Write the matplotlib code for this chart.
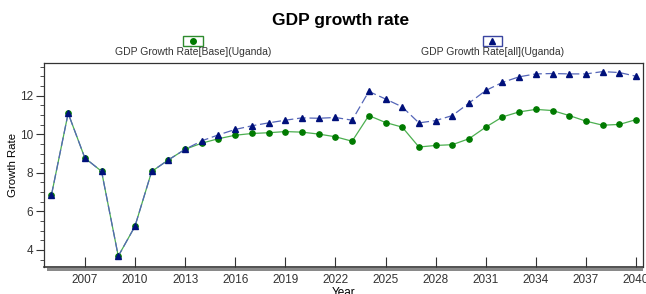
import matplotlib
matplotlib.use('Agg')
import matplotlib.pyplot as plt
from matplotlib.ticker import MultipleLocator
from matplotlib.patches import Rectangle

plt.rcParams['font.family'] = ['Liberation Sans', 'DejaVu Sans']

# data
years = list(range(2005, 2041))
base = [6.85, 11.09, 8.77, 8.08, 3.68, 5.23, 8.07, 8.67, 9.22, 9.54, 9.77,
        9.95, 10.04, 10.08, 10.14, 10.11, 10.01, 9.87, 9.64, 10.97, 10.61,
        10.37, 9.34, 9.42, 9.46, 9.77, 10.37, 10.90, 11.16, 11.29, 11.23,
        10.97, 10.68, 10.47, 10.51, 10.76]
scen_all = [6.85, 11.09, 8.77, 8.08, 3.68, 5.23, 8.07, 8.67, 9.22, 9.66, 9.97,
            10.25, 10.44, 10.59, 10.73, 10.85, 10.83, 10.87, 10.73, 12.22, 11.83,
            11.42, 10.59, 10.71, 10.97, 11.62, 12.27, 12.69, 12.98, 13.13, 13.15,
            13.13, 13.13, 13.25, 13.20, 13.01]
xticks = list(range(2007, 2041, 3))
labels = ['GDP Growth Rate[Base](Uganda)', 'GDP Growth Rate[all](Uganda)']

fig = plt.figure(figsize=(6.46, 2.94), dpi=100)
ax = fig.add_axes([0.068, 0.092, 0.927, 0.694])

ax.plot(years, base, color='#4caf50', lw=0.9, marker='o', ms=3.8,
        mfc='#007a00', mec='#007a00', zorder=3)
ax.plot(years, scen_all, color='#5566b8', lw=0.9, ls=(0, (7, 3)), marker='^', ms=5,
        mfc='#00107a', mec='#00107a', zorder=4)

ax.set_xlim(2004.55, 2040.4)
ax.set_ylim(3.12, 13.7)
ax.set_xticks(xticks)
ax.yaxis.set_major_locator(MultipleLocator(2))
ax.yaxis.set_minor_locator(MultipleLocator(0.5))
ax.tick_params(axis='y', which='major', direction='out', length=6, pad=2,
               labelsize=8.5, colors='#333333')
ax.tick_params(axis='y', which='minor', direction='out', length=3, color='#333333')
ax.tick_params(axis='x', direction='in', length=7, labelsize=8.5, colors='#333333', pad=5)
for s in ax.spines.values():
    s.set_color('#333333')
    s.set_linewidth(0.9)
ax.spines['bottom'].set_linewidth(1.2)

# gray shadow under the bottom axis
fig.add_artist(Rectangle((0.073, 0.078), 0.922, 0.012, transform=fig.transFigure,
                         color='#8a8a8a', lw=0))

ax.set_ylabel('Growth Rate', fontsize=8.2)
ax.yaxis.set_label_coords(-0.043, 0.5)
ax.set_xlabel('Year', fontsize=8.5, labelpad=1)

fig.text(0.527, 0.93, 'GDP growth rate', ha='center', va='center',
         fontsize=12.5, fontweight='bold')

# legend: marker boxes above the labels
for cx, lab, col, mk, edge in [(0.299, labels[0], '#007a00', 'o', '#2e8b2e'),
                               (0.762, labels[1], '#00107a', '^', '#3a45a0')]:
    fig.add_artist(Rectangle((cx - 0.015, 0.845), 0.03, 0.032, transform=fig.transFigure,
                             fill=False, ec=edge, lw=1.0))
    fig.add_artist(plt.Line2D([cx], [0.861], transform=fig.transFigure, marker=mk,
                              ms=4, color=col, ls='none'))
    fig.text(cx, 0.823, lab, ha='center', va='center', fontsize=7.5, color='#333333')

fig.savefig('out.png', dpi=100)
